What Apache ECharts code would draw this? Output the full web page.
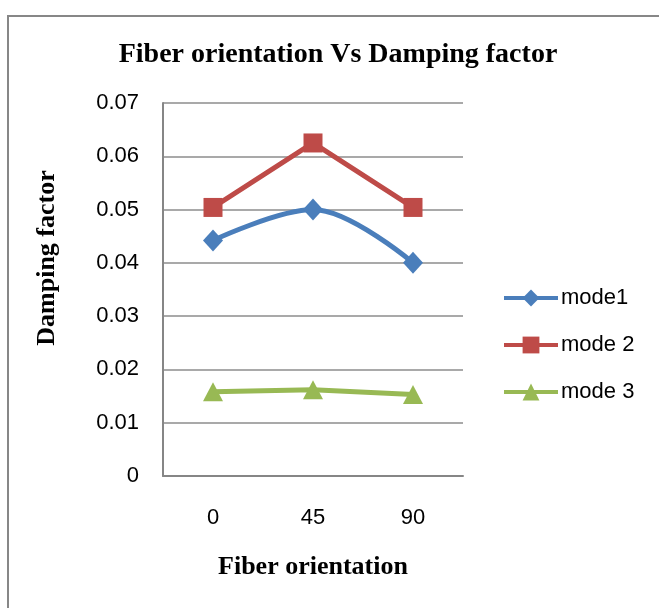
<!DOCTYPE html>
<html>
<head>
<meta charset="utf-8">
<script src="https://cdn.jsdelivr.net/npm/echarts@6/dist/echarts.min.js"></script>
<style>
  html, body { margin: 0; padding: 0; background: #fff; }
  #chart { width: 659px; height: 608px; }
</style>
</head>
<body>
<div id="chart"></div>
<script>
// Fiber orientation (degrees) on the category axis
const categories = ['0', '45', '90'];

// Damping factor per vibration mode
const mode1 = [0.0442, 0.0500, 0.0400];
const mode2 = [0.0504, 0.0625, 0.0504];
const mode3 = [0.0158, 0.0162, 0.0153];

const seriesNames = ['mode1', 'mode 2', 'mode 3'];

const chart = echarts.init(document.getElementById('chart'), null, { renderer: 'canvas' });

const serif = '"Liberation Serif", "Times New Roman", serif';
const sans = '"Liberation Sans", Arial, sans-serif';

chart.setOption({
  animation: false,
  backgroundColor: '#ffffff',
  title: {
    text: 'Fiber orientation Vs Damping factor',
    left: 333,
    textAlign: 'center',
    top: 36,
    textStyle: { fontFamily: serif, fontWeight: 'bold', fontSize: 28, color: '#000' }
  },
  graphic: [
    {
      type: 'rect',
      shape: { x: 8, y: 16, width: 700, height: 700 },
      style: { fill: 'none', stroke: '#878787', lineWidth: 2 },
      silent: true
    },
    {
      // value axis title, rotated
      type: 'text',
      x: 47,
      y: 258,
      rotation: Math.PI / 2,
      style: {
        text: 'Damping factor',
        fontFamily: serif, fontWeight: 'bold', fontSize: 26, fill: '#000',
        align: 'center', verticalAlign: 'middle'
      },
      silent: true
    }
  ],
  legend: {
    orient: 'vertical',
    left: 502,
    top: 287,
    padding: 0,
    itemWidth: 54,
    itemHeight: 21,
    itemGap: 25,
    lineStyle: { width: 4 },
    textStyle: { fontFamily: sans, fontSize: 22, color: '#000', padding: [0, 0, 0, -2] },
    data: seriesNames
  },
  grid: { left: 163, top: 103, right: 196, bottom: 132, containLabel: false },
  xAxis: {
    type: 'category',
    data: categories,
    boundaryGap: true,
    name: 'Fiber orientation',
    nameLocation: 'middle',
    nameGap: 78,
    nameTextStyle: { fontFamily: serif, fontWeight: 'bold', fontSize: 26, color: '#000' },
    axisLine: { lineStyle: { color: '#868686', width: 2 } },
    axisTick: { show: false },
    axisLabel: { fontFamily: sans, fontSize: 22, color: '#000', margin: 31 }
  },
  yAxis: {
    type: 'value',
    min: 0,
    max: 0.07,
    interval: 0.01,
    axisLine: { show: true, lineStyle: { color: '#868686', width: 2 } },
    axisTick: { show: false },
    axisLabel: {
      fontFamily: sans, fontSize: 22, color: '#000', margin: 24,
      formatter: v => (v === 0 ? '0' : v.toFixed(2))
    },
    splitLine: { show: true, lineStyle: { color: '#8c8c8c', width: 1.5 } }
  },
  series: [
    {
      name: seriesNames[0], type: 'line', data: mode1, smooth: 0.35,
      symbol: 'diamond', symbolSize: [20, 22],
      lineStyle: { color: '#4A7EBB', width: 5 },
      itemStyle: { color: '#4A7EBB' }
    },
    {
      name: seriesNames[1], type: 'line', data: mode2,
      symbol: 'rect', symbolSize: 19,
      lineStyle: { color: '#BE4B48', width: 5 },
      itemStyle: { color: '#BE4B48' }
    },
    {
      name: seriesNames[2], type: 'line', data: mode3,
      symbol: 'triangle', symbolSize: [20, 19],
      lineStyle: { color: '#98B954', width: 5 },
      itemStyle: { color: '#98B954' }
    }
  ]
});
</script>
</body>
</html>
